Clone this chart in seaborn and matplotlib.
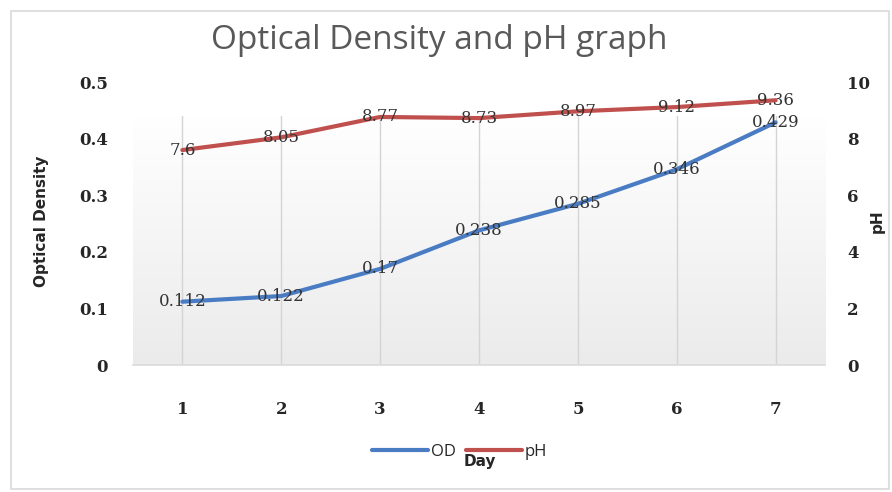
import numpy as np
import pandas as pd
import matplotlib
matplotlib.use("Agg")
import matplotlib.pyplot as plt
import seaborn as sns
from matplotlib.patches import Rectangle
from matplotlib.colors import LinearSegmentedColormap

# Measurements per day
days = [1, 2, 3, 4, 5, 6, 7]
od_values = [0.112, 0.122, 0.17, 0.238, 0.285, 0.346, 0.429]
ph_values = [7.6, 8.05, 8.77, 8.73, 8.97, 9.12, 9.36]
od_ticks = [0, 0.1, 0.2, 0.3, 0.4, 0.5]
ph_ticks = [0, 2, 4, 6, 8, 10]

df = pd.DataFrame({"Day": days, "OD": od_values, "pH": ph_values})

sns.set_theme(style="white")
plt.rcParams["font.family"] = ["DejaVu Sans"]

OD_COLOR = "#4a7cc4"
PH_COLOR = "#c0504d"
TEXT = "#262626"

fig = plt.figure(figsize=(8.92, 4.92), dpi=100)
ax = fig.add_axes([0.149, 0.258, 0.776, 0.575])
ax2 = ax.twinx()

# soft vertical gradient behind the plot area (grey at the bottom, white on top)
grad = np.linspace(0.0, 1.0, 256).reshape(-1, 1)
cmap = LinearSegmentedColormap.from_list("bg", ["#ebebeb", "#ffffff"])
ax.imshow(grad, aspect="auto", cmap=cmap, extent=[0.5, 7.5, 0, 0.44],
          origin="lower", zorder=0)

sns.lineplot(data=df, x="Day", y="OD", ax=ax, color=OD_COLOR, linewidth=3,
             label="OD", legend=False, zorder=3)
sns.lineplot(data=df, x="Day", y="pH", ax=ax2, color=PH_COLOR, linewidth=3,
             label="pH", legend=False, zorder=3)

ax.set_xlim(0.5, 7.5)
ax.set_ylim(0, 0.5)
ax2.set_ylim(0, 10)

for d in days:
    ax.axvline(d, 0, 0.88, color="#d4d4d4", linewidth=1, zorder=1)

for a in (ax, ax2):
    for s in a.spines.values():
        s.set_visible(False)
ax.spines["bottom"].set_visible(True)
ax.spines["bottom"].set_color("#dcdcdc")

tick_font = dict(family="DejaVu Serif", weight="bold", size=12)
ax.set_xticks(days)
ax.set_xticklabels([str(d) for d in days], color=TEXT, **tick_font)
ax.set_yticks(od_ticks)
ax.set_yticklabels([f"{v:g}" for v in od_ticks], color=TEXT, **tick_font)
ax2.set_yticks(ph_ticks)
ax2.set_yticklabels([f"{v:g}" for v in ph_ticks], color=TEXT, **tick_font)
ax.tick_params(axis="y", length=0, pad=18)
ax.tick_params(axis="x", length=0, pad=26)
ax2.tick_params(axis="y", length=0, pad=16)

ax.set_xlabel("")
ax.set_ylabel("")
ax2.set_ylabel("")

# point value labels
lab_font = dict(family="DejaVu Serif", size=12, color="#333333")
for d, v in zip(days, od_values):
    ax.text(d, v, f"{v:g}", ha="center", va="center", zorder=5, **lab_font)
for d, v in zip(days, ph_values):
    ax2.text(d, v, f"{v:g}", ha="center", va="center", zorder=5, **lab_font)

fig.text(0.492, 0.918, "Optical Density and pH graph", ha="center",
         va="center", fontsize=24, color="#595959", family="Open Sans")
fig.text(0.047, 0.55, "Optical Density", rotation=90, ha="center", va="center",
         fontsize=11, weight="bold", color=TEXT)
fig.text(0.983, 0.55, "pH", rotation=90, ha="center", va="center",
         fontsize=11, weight="bold", color=TEXT)
fig.text(0.538, 0.062, "Day", ha="center", va="center", fontsize=11,
         weight="bold", color=TEXT)

h1, l1 = ax.get_legend_handles_labels()
h2, l2 = ax2.get_legend_handles_labels()
fig.legend(h1 + h2, l1 + l2, loc="center", bbox_to_anchor=(0.515, 0.082),
           ncol=2, frameon=False, handlelength=3.4, columnspacing=0.6,
           handletextpad=0.15,
           prop=dict(family="Open Sans", size=12))

# outer chart border
fig.patches.append(Rectangle((0.012, 0.006), 0.985, 0.972,
                             transform=fig.transFigure, fill=False,
                             edgecolor="#d9d9d9", linewidth=1.2))

fig.savefig("out.png", dpi=100, facecolor="white")
